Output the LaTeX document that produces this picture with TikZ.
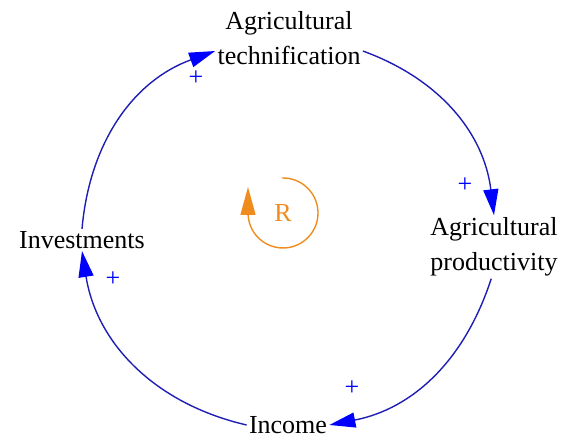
\documentclass[tikz,border=0pt]{standalone}
\usepackage{fontspec}
\setmainfont{Liberation Serif}
\usetikzlibrary{arrows.meta}

\definecolor{linkblue}{RGB}{30,30,180}
\definecolor{loopor}{RGB}{240,140,30}

\begin{document}
\begin{tikzpicture}[x=0.5pt, y=0.5pt,
  var/.style={font=\fontsize{13}{17.5}\selectfont, align=center, inner sep=1pt},
  link/.style={draw=linkblue, line width=0.7pt, -{Triangle[length=13pt, width=7.5pt, color=blue]}},
  polarity/.style={text=blue, font=\fontsize{13}{13}\selectfont, inner sep=0pt},
  loopmark/.style={text=loopor, font=\fontsize{13}{13}\selectfont, inner sep=0pt},
  looplink/.style={draw=loopor, line width=0.7pt, -{Triangle[length=14pt, width=7.5pt]}},
]
\useasboundingbox (0,0) rectangle (568,438);

% Variables of the loop
\node[var] (tech) at (289,400) {Agricultural\\technification};
\node[var] (prod) at (494,191) {Agricultural\\productivity};
\node[var] (inc)  at (288,13)  {Income};
\node[var] (inv)  at (82,198)  {Investments};

% Causal links
\draw[link] (tech.350) to[out=-20, in=97]  (prod.north);
\draw[link] (prod.265) to[out=-108, in=11] (inc.east);
\draw[link] (inc.west) to[out=167, in=-81] (inv.south);
\draw[link] (inv.north) to[out=85, in=200] (tech.190);

% Polarities
\node[polarity] (p1) at (196,360) {+};
\node[polarity] (p2) at (465,253) {+};
\node[polarity] (p3) at (352,50)  {+};
\node[polarity] (p4) at (113,159) {+};

% Reinforcing loop marker
\node[loopmark] (R) at (283,225) {R};
\draw[looplink] ([shift={(92:35)}]R.center) arc[start angle=92, end angle=-180, radius=35] -- ++(0,26);

\end{tikzpicture}
\end{document}
